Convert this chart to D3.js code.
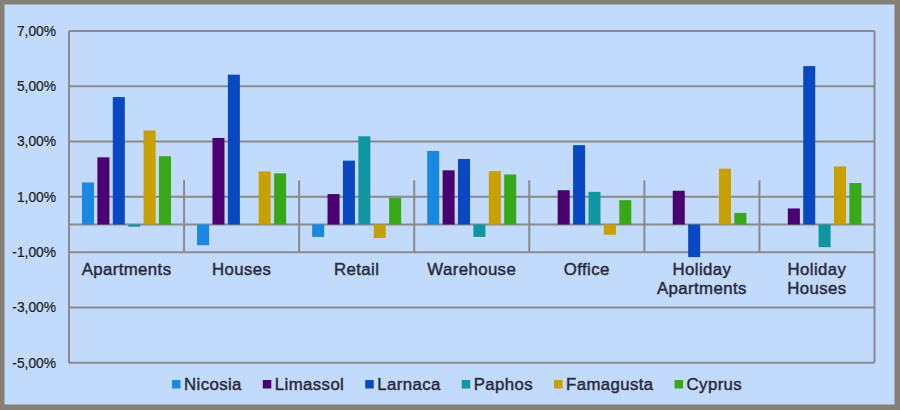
<!DOCTYPE html>
<html><head><meta charset="utf-8">
<script src="https://cdn.jsdelivr.net/npm/d3@7/dist/d3.min.js"></script>
<style>body{margin:0;background:#857f76;}svg{display:block;}</style>
</head><body>
<svg id="c" width="900" height="410"></svg>
<script>
const categories = [["Apartments"],["Houses"],["Retail"],["Warehouse"],["Office"],["Holiday","Apartments"],["Holiday","Houses"]];
const seriesNames = ["Nicosia","Limassol","Larnaca","Paphos","Famagusta","Cyprus"];
const seriesColors = ["#1a88e0","#4a0070","#0848c0","#1096a0","#c8a000","#38a818"];
const nicosia   = [1.52,-0.75,-0.45,2.66,0,0,0];
const limassol  = [2.43,3.13,1.10,1.96,1.24,1.22,0.58];
const larnaca   = [4.61,5.42,2.31,2.37,2.87,-1.18,5.73];
const paphos    = [-0.08,0,3.19,-0.45,1.18,0,-0.82];
const famagusta = [3.40,1.92,-0.49,1.93,-0.37,2.02,2.10];
const cyprus    = [2.47,1.85,0.97,1.81,0.88,0.42,1.50];
const yTicks = [7,5,3,1,-1,-3,-5];
const series = [nicosia,limassol,larnaca,paphos,famagusta,cyprus];

const svg = d3.select("#c");
svg.append("rect").attr("x",4.5).attr("y",4.5).attr("width",890).attr("height",400).attr("fill","#c2dafc");

const L=69, R=874.5, T=31, B=362.7;
const y = d3.scaleLinear().domain([-5,7]).range([B,T]);
const x = d3.scaleBand().domain(d3.range(categories.length)).range([L,R]).padding(0);
const xi = d3.scaleBand().domain(d3.range(seriesNames.length)).range([13,102]).paddingInner(0.22).paddingOuter(0);
const gridColor="#8a8a8a";
const font="Liberation Sans, Arial, sans-serif";

svg.append("g").selectAll("line").data(yTicks).join("line")
  .attr("x1",L).attr("x2",R).attr("y1",d=>y(d)).attr("y2",d=>y(d))
  .attr("stroke",gridColor).attr("stroke-width",2);
svg.append("line").attr("x1",L).attr("x2",L).attr("y1",T).attr("y2",B).attr("stroke",gridColor).attr("stroke-width",2);
svg.append("line").attr("x1",R).attr("x2",R).attr("y1",T).attr("y2",B).attr("stroke",gridColor).attr("stroke-width",2);
svg.append("g").selectAll("line").data(d3.range(1,categories.length)).join("line")
  .attr("x1",d=>x(d)).attr("x2",d=>x(d)).attr("y1",y(1.6)).attr("y2",y(-1))
  .attr("stroke",gridColor).attr("stroke-width",2);
svg.append("line").attr("x1",L).attr("x2",R).attr("y1",y(0)).attr("y2",y(0)).attr("stroke",gridColor).attr("stroke-width",2);

series.forEach((vals,si)=>{
  svg.append("g").selectAll("rect").data(vals).join("rect")
    .attr("x",(d,ci)=>x(ci)+xi(si))
    .attr("width",xi.bandwidth())
    .attr("y",d=>y(Math.max(0,d)))
    .attr("height",d=>Math.abs(y(d)-y(0)))
    .attr("fill",seriesColors[si]);
});

svg.append("g").selectAll("text").data(yTicks).join("text")
  .attr("x",56).attr("y",d=>y(d)).attr("dy","0.35em").attr("text-anchor","end")
  .attr("font-family",font).attr("font-size",13.8).attr("fill","#1a1a1a")
  .attr("stroke","#1a1a1a").attr("stroke-width",0.2)
  .text(d=>d.toFixed(2).replace(".",",")+"%");

const cg = svg.append("g").selectAll("text").data(categories).join("text")
  .attr("x",(d,i)=>x(i)+x.bandwidth()/2).attr("y",274.5).attr("text-anchor","middle")
  .attr("font-family",font).attr("font-size",16.8).attr("fill","#2a2a3a").attr("letter-spacing",0.4)
  .attr("stroke","#2a2a3a").attr("stroke-width",0.45);
cg.selectAll("tspan").data(d=>d).join("tspan")
  .attr("x",function(){return this.parentNode.getAttribute("x");})
  .attr("dy",(d,i)=>i===0?0:19).text(d=>d);

let lx=172;
const lg=svg.append("g");
seriesNames.forEach((n,i)=>{
  lg.append("rect").attr("x",lx).attr("y",380).attr("width",8.5).attr("height",8.5).attr("fill",seriesColors[i]);
  const t=lg.append("text").attr("x",lx+12).attr("y",389.5)
    .attr("font-family",font).attr("font-size",16.8).attr("fill","#2a2a3a").attr("letter-spacing",0.4)
    .attr("stroke","#2a2a3a").attr("stroke-width",0.45).text(n);
  lx += 12 + t.node().getComputedTextLength() + 21;
});
</script>
</body></html>
